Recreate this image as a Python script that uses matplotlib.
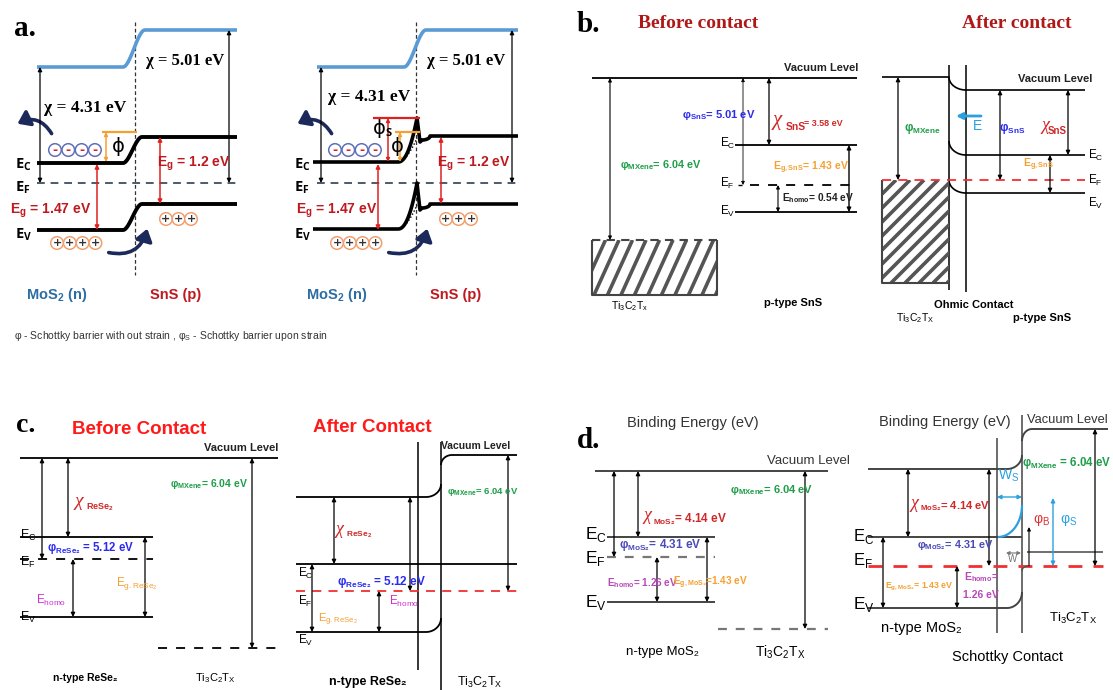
import numpy as np
import matplotlib
matplotlib.use('Agg')
import matplotlib.pyplot as plt
from matplotlib.patches import Circle, Rectangle, FancyArrowPatch

# ---------------- data (energies in eV, labels) ----------------
chi_a = [4.31, 5.01]          # electron affinity MoS2, SnS (panel a)
eg_a = [1.47, 1.2]            # band gap MoS2, SnS (panel a)
mat_a = ['MoS$_\\mathregular{2}$ (n)', 'SnS (p)']
phi_mxene = 6.04
phi_sns, chi_sns, eg_sns, ehomo_sns = 5.01, 3.58, 1.43, 0.54
phi_rese2 = 5.12
chi_mos2, phi_mos2, eg_mos2, ehomo_mos2 = 4.14, 4.31, 1.43, 1.26
panel_letters = ['a.', 'b.', 'c.', 'd.']
titles_b = ['Before contact', 'After contact']
titles_c = ['Before Contact', 'After Contact']
caption = ('φ - Schottky barrier with out strain , φ$_\\mathregular{S}$'
           ' - Schottky barrier upon strain')

# ---------------- canvas ----------------
W, H = 1113, 690
fig = plt.figure(figsize=(W / 100, H / 100), dpi=100)
ax = fig.add_axes([0, 0, 1, 1])
ax.set_xlim(0, W)
ax.set_ylim(H, 0)
ax.axis('off')

SANS = ['Liberation Sans', 'DejaVu Sans']
SERIF = ['Liberation Serif', 'DejaVu Serif']
CAL = ['Open Sans', 'Liberation Sans', 'DejaVu Sans']

GREEN = '#1f9e49'
BLUE = '#2b2bf0'
RED = '#d02828'
ORANGE = '#f5a030'
MAG = '#d030d0'
NAVY = '#1b2a5a'
SKY = '#2aa0e0'


def line(xs, ys, c='k', lw=1.2, ls='-', **kw):
    return ax.plot(xs, ys, color=c, lw=lw, ls=ls, solid_capstyle='butt', **kw)[0]


def arrow(x0, y0, x1, y1, c='k', lw=0.9, style='<|-|>', ms=7):
    ax.annotate('', xy=(x1, y1), xytext=(x0, y0),
                arrowprops=dict(arrowstyle=style, color=c, lw=lw, shrinkA=0,
                                shrinkB=0, mutation_scale=ms))


def txt(x, y, s, size=10, c='k', w='bold', ha='left', va='center', fam=SANS, **kw):
    ax.text(x, y, s, fontsize=size, color=c, fontweight=w, ha=ha, va=va,
            family=fam, **kw)


def sub(s):
    return '$_\\mathregular{' + s + '}$'


def step(x0, xa, xb, x1, y0, y1, n=60):
    t = np.linspace(0, 1, n)
    s = t * t * (3 - 2 * t)
    xs = np.concatenate([[x0], xa + (xb - xa) * t, [x1]])
    ys = np.concatenate([[y0], y0 + (y1 - y0) * s, [y1]])
    return xs, ys


def quarter(xa, ya, xb, yb, start='h', n=30):
    t = np.linspace(0, np.pi / 2, n)
    if start == 'h':
        xs = xa + (xb - xa) * np.sin(t)
        ys = ya + (yb - ya) * (1 - np.cos(t))
    else:
        xs = xa + (xb - xa) * (1 - np.cos(t))
        ys = ya + (yb - ya) * np.sin(t)
    return xs, ys


def hatch(x0, y0, x1, y1, spacing=13.0, slope=1.0, lw=2.6, c='#555555'):
    clip = Rectangle((x0, y0), x1 - x0, y1 - y0, fc='none', ec='none')
    ax.add_patch(clip)
    dx = (y1 - y0) / slope
    for xs in np.arange(x0 - dx, x1 + spacing, spacing):
        ln = line([xs, xs + dx], [y1, y0], c=c, lw=lw)
        ln.set_clip_path(clip)


def circ(x, y, sign, ec, tc):
    ax.add_patch(Circle((x, y), 6.3, fc='white', ec=ec, lw=1.1))
    txt(x, y + 0.5, sign, size=8 if sign == '+' else 9, c=tc, ha='center',
        fam=['DejaVu Sans'])


def curved(a, b, rad):
    ax.add_patch(FancyArrowPatch(a, b, connectionstyle=f'arc3,rad={rad}',
                                 arrowstyle='-|>,head_length=7,head_width=5',
                                 color=NAVY, lw=2.6, mutation_scale=1))


# =============== Panel a ===============
txt(14, 28, panel_letters[0], size=21, fam=SERIF)
for k, ox in enumerate([0, 280]):
    left = 37 if k == 0 else 317
    jx = 135 if k == 0 else 416
    right = 237 if k == 0 else 518
    line([jx, jx], [22, 275], c='#333333', lw=0.9, ls=(0, (3, 2)))
    xs, ys = step(left, jx - 12, jx + 10, right, 67, 30)
    line(xs, ys, c='#5b9bd5', lw=2.6)
    line([left, right], [183, 183], c='#4a5a70', lw=1.4, ls=(0, (4, 3)))
    if k == 0:
        xs, ys = step(left, 123, 142, right, 163, 137)
        line(xs, ys, lw=2.8)
        xs, ys = step(left, 123, 142, right, 230, 204)
        line(xs, ys, lw=2.8)
    else:
        for yb, yp, yr, yd in [(162, 118, 136, 138), (229, 183, 204, 205)]:
            u = np.linspace(0, 1, 40)
            xr = 398 + 19 * u
            yrise = yb - (yb - yp) * u ** 2.2
            tq = np.linspace(0, np.pi / 2, 15)
            xs = np.concatenate([[313], xr, [420, 422], 422 + 8 * np.sin(tq), [518]])
            ys = np.concatenate([[yb], yrise, [yr + 6, yr + 4],
                                 yr + 4 - 4 * (1 - np.cos(tq)), [yr]])
            line(xs, ys, lw=2.6)
            line(398 + 19 * u, yb - (yb - yd) * u ** 1.8, lw=1.0, ls=(0, (1, 1.5)))
    xl = 40 if k == 0 else 321
    arrow(xl, 67, xl, 183, ms=6)
    xr_ = 229 if k == 0 else 512
    arrow(xr_, 30, xr_, 183, ms=6)
    txt(85 if k == 0 else 369, 108 if k == 0 else 97, f'χ = {chi_a[0]:.2f} eV',
        size=12.5, ha='center', fam=SERIF)
    txt(185 if k == 0 else 466, 61, f'χ = {chi_a[1]:.2f} eV', size=12, ha='center', fam=SERIF)
    xg1 = 97 if k == 0 else 378
    xg2 = 160 if k == 0 else 441
    arrow(xg1, 164, xg1, 230, c='#e02020', lw=1.1, ms=6)
    arrow(xg2, 137, xg2, 204, c='#e02020', lw=1.1, ms=6)
    txt(51 if k == 0 else 337, 211, 'E' + sub('g') + f' = {eg_a[0]:.2f} eV', size=10,
        c='#c0181f', ha='center')
    txt(194 if k == 0 else 474, 164, 'E' + sub('g') + f' = {eg_a[1]:.1f} eV', size=10,
        c='#c0181f', ha='center')
    lx = 15 if k == 0 else 294
    txt(lx, 165, 'E' + sub('C'), size=10.5, fam=CAL)
    txt(lx, 188, 'E' + sub('F'), size=10.5, fam=CAL)
    txt(lx, 235, 'E' + sub('V'), size=10.5, fam=CAL)
    for i in range(4):
        circ(55 + ox + 13.3 * i, 150, '-', '#6070b8', '#e02020')
        circ(57 + ox + 12.8 * i, 243, '+', '#f0a070', '#333333')
    for i in range(3):
        circ(166 + ox + 12.5 * i, 219, '+', '#f0a070', '#333333')
    curved((53 + ox, 136), (15 + ox, 125), 0.5)
    curved((106 + ox, 252), (148 + ox, 226), 0.5)
    txt(57 + ox, 295, mat_a[0], size=10.5, c='#2e6da4', ha='center')
    txt(176 + ox, 295, mat_a[1], size=10.5, c='#c0181f', ha='center')

line([102, 137], [132, 132], c=ORANGE, lw=1.6)
arrow(106, 132, 106, 162, c=ORANGE, lw=1.1, ms=5)
txt(112, 147, 'ϕ', size=14, fam=['DejaVu Sans'], w='normal')
line([373, 420], [118, 118], c='#e02020', lw=1.6)
arrow(388, 118, 388, 162, c='#e02020', lw=1.1, ms=5)
txt(373, 128, 'ϕ', size=14, fam=['DejaVu Sans'], w='normal')
txt(385, 134, 'S', size=8, fam=CAL)
line([395, 420], [132, 132], c=ORANGE, lw=1.6)
arrow(400, 132, 400, 162, c=ORANGE, lw=1.1, ms=5)
txt(391, 146, 'ϕ', size=14, fam=['DejaVu Sans'], w='normal')

txt(14, 336, caption, size=7.5, w='normal', c='#333333')

# =============== Panel b (before) ===============
txt(577, 24, panel_letters[1], size=21, fam=SERIF)
txt(698, 23, titles_b[0], size=14, c='#b01818', ha='center', fam=SERIF)
line([592, 857], [78, 78], lw=1.3)
txt(858, 68, 'Vacuum Level', size=8, ha='right', c='#222222')
arrow(610, 78, 610, 240, lw=0.8, ms=5)
hatch(592, 240, 717, 295, spacing=13.5, slope=2.2, lw=2.6)
line([592, 592, 717, 717], [240, 295, 295, 240], c='#444444', lw=1.5)
line([592, 717], [240, 240], c='#444444', lw=1.5, ls=(0, (4, 3)))
txt(620, 165, 'φ' + sub('MXene') + f'= {phi_mxene:.2f} eV', size=7.8, c=GREEN)
arrow(743, 78, 743, 185, lw=0.6, ms=5)
txt(682, 115, 'φ' + sub('SnS') + f'= {phi_sns:.2f} eV', size=8, c=BLUE)
arrow(769, 78, 769, 145, lw=0.9, ms=6)
txt(773, 121, 'χ', size=15, c=RED, w='normal', fam=SERIF, style='italic')
txt(786, 127, 'SnS', size=7.5, c=RED)
txt(804, 123, f'= {chi_sns:.2f} eV', size=6.5, c=RED)
line([735, 857], [145, 145], lw=1.3)
line([750, 857], [185, 185], lw=1.3, ls=(0, (5, 5)))
line([738, 742], [185, 185], lw=1.0)
line([735, 857], [212, 212], lw=1.3)
txt(720, 143, 'E' + sub('C'), size=8.5, w='normal')
txt(720, 183, 'E' + sub('F'), size=8.5, w='normal')
txt(720, 211, 'E' + sub('V'), size=8.5, w='normal')
arrow(849, 145, 849, 212, lw=1.0, ms=6)
arrow(778, 185, 778, 212, lw=0.8, ms=5)
txt(773, 168, 'E' + sub('g, SnS') + f'= {eg_sns:.2f} eV', size=7.5, c=ORANGE)
txt(782, 198, 'E' + sub('homo') + f'= {ehomo_sns:.2f} eV', size=7.3, c='#222222')
txt(630, 306, 'Ti' + sub('3') + 'C' + sub('2') + 'T' + sub('x'), size=7.5, ha='center', w='normal')
txt(793, 303, 'p-type SnS', size=8, ha='center')

# =============== Panel b (after) ===============
txt(1017, 23, titles_b[1], size=14, c='#b01818', ha='center', fam=SERIF)
line([949, 949], [65, 290], lw=1.1)
line([966, 966], [65, 292], lw=1.1)
xs, ys = quarter(949, 77, 966, 90, 'v')
line(np.r_[882, xs, 1085], np.r_[77, ys, 90], lw=1.2)
xs, ys = quarter(949, 141, 966, 155, 'v')
line(np.r_[xs, 1085], np.r_[ys, 155], lw=1.2)
xs, ys = quarter(949, 180, 966, 193, 'v')
line(np.r_[xs, 1085], np.r_[ys, 193], lw=1.2)
txt(1092, 79, 'Vacuum Level', size=8, ha='right', c='#222222')
hatch(882, 180, 949, 283, spacing=14, slope=1.0, lw=2.6)
line([882, 882, 949], [180, 283, 283], c='#444444', lw=1.5)
line([882, 1085], [180, 180], c='#f03030', lw=1.3, ls=(0, (5, 4)))
arrow(898, 77, 898, 180, lw=0.9, ms=6)
txt(922, 128, 'φ' + sub('MXene'), size=8.5, c=GREEN, ha='center')
arrow(981, 116, 956, 116, c=SKY, lw=2.0, style='-|>', ms=9)
txt(977, 126, 'E', size=10, c=SKY, ha='center', w='normal')
arrow(1000, 90, 1000, 180, lw=0.9, ms=6)
txt(1012, 128, 'φ' + sub('SnS'), size=8.5, c=BLUE, ha='center')
arrow(1068, 90, 1068, 155, lw=0.9, ms=6)
txt(1045, 126, 'χ', size=13, c=RED, w='normal', fam=SERIF, style='italic', ha='center')
txt(1057, 131, 'SnS', size=7, c=RED, ha='center')
arrow(1050, 155, 1050, 193, lw=0.9, ms=6)
txt(1038, 165, 'E' + sub('g, SnS'), size=7.5, c=ORANGE, ha='center')
txt(1088, 155, 'E' + sub('C'), size=8.5, w='normal')
txt(1088, 180, 'E' + sub('F'), size=8.5, w='normal')
txt(1088, 203, 'E' + sub('V'), size=8.5, w='normal')
txt(974, 305, 'Ohmic Contact', size=8, ha='center')
txt(915, 318, 'Ti' + sub('3') + 'C' + sub('2') + 'T' + sub('X'), size=7.5, ha='center', w='normal')
txt(1042, 318, 'p-type SnS', size=8, ha='center')

# =============== Panel c (before) ===============
txt(16, 426, panel_letters[2], size=20, fam=SERIF)
txt(139, 429, titles_c[0], size=13.5, c='#ff1a1a', ha='center')
line([20, 278], [458, 458], lw=1.3)
txt(278, 448, 'Vacuum Level', size=8, ha='right', c='#222222')
arrow(42, 458, 42, 559, lw=0.9, ms=6)
arrow(68, 458, 68, 537, lw=0.9, ms=6)
txt(75, 501, 'χ', size=14, c=RED, w='normal', fam=SERIF, style='italic')
txt(86, 507, 'ReSe' + sub('2'), size=6.5, c=RED)
line([20, 153], [537, 537], lw=1.3)
line([20, 153], [559, 559], lw=1.3, ls=(0, (5, 5)))
line([20, 153], [617, 617], lw=1.3)
txt(20, 535, 'E' + sub('C'), size=9, w='normal')
txt(20, 562, 'E' + sub('F'), size=9, w='normal')
txt(20, 617, 'E' + sub('V'), size=9, w='normal')
txt(47, 548, 'φ' + sub('ReSe₂') + f' = {phi_rese2:.2f} eV', size=8.3, c=BLUE)
arrow(73, 559, 73, 617, lw=0.9, ms=6)
txt(36, 600, 'E' + sub('homo'), size=8.5, c=MAG, w='normal')
arrow(145, 537, 145, 617, lw=0.9, ms=6)
txt(116, 583, 'E' + sub('g. ReSe₂'), size=8.5, c=ORANGE, w='normal')
line([158, 278], [648, 648], lw=1.3, ls=(0, (5, 5)))
arrow(252, 458, 252, 648, lw=0.9, ms=6)
txt(209, 484, 'φ' + sub('MXene') + f'= {phi_mxene:.2f} eV', size=7.5, c=GREEN, ha='center')
txt(85, 678, 'n-type ReSe₂', size=7.5, ha='center')
txt(215, 678, 'Ti' + sub('3') + 'C' + sub('2') + 'T' + sub('X'), size=8, ha='center', w='normal')

# =============== Panel c (after) ===============
txt(372, 428, titles_c[1], size=13.5, c='#ff1a1a', ha='center')
line([418, 418], [442, 670], lw=1.1)
line([441, 441], [442, 690], lw=1.1)
xs, ys = quarter(426, 497, 441, 484, 'h')
line(np.r_[296, xs], np.r_[497, ys], lw=1.3)
xs, ys = quarter(441, 465, 452, 455, 'v')
line(np.r_[xs, 517], np.r_[ys, 455], lw=1.3)
txt(476, 446, 'Vacuum Level', size=7.5, ha='center', c='#222222')
line([296, 517], [564, 564], lw=1.3)
line([296, 517], [591, 591], c='#f03030', lw=1.3, ls=(0, (5, 4)))
xs, ys = quarter(426, 632, 441, 618, 'h')
line(np.r_[296, xs], np.r_[632, ys], lw=1.3)
arrow(334, 497, 334, 564, lw=0.9, ms=6)
txt(335, 530, 'χ', size=13, c=RED, w='normal', fam=SERIF, style='italic')
txt(346, 535, 'ReSe' + sub('2'), size=6, c=RED)
arrow(410, 497, 410, 591, lw=0.9, ms=6)
txt(381, 582, 'φ' + sub('ReSe₂') + f' = {phi_rese2:.2f} eV', size=8.5, c=BLUE, ha='center')
arrow(508, 455, 508, 591, lw=0.9, ms=6)
txt(483, 492, 'φ' + sub('MXene') + f'= {phi_mxene:.2f} eV', size=6.8, c=GREEN, ha='center')
arrow(312, 564, 312, 632, lw=0.9, ms=6)
txt(318, 620, 'E' + sub('g. ReSe₂'), size=8, c=ORANGE, w='normal')
arrow(379, 591, 379, 632, lw=0.9, ms=6)
txt(389, 601, 'E' + sub('homo'), size=8.5, c=MAG, w='normal')
txt(298, 573, 'E' + sub('C'), size=8.5, w='normal')
txt(298, 601, 'E' + sub('F'), size=8.5, w='normal')
txt(298, 640, 'E' + sub('V'), size=8.5, w='normal')
txt(368, 682, 'n-type ReSe₂', size=9, ha='center')
txt(480, 682, 'Ti' + sub('3') + 'C' + sub('2') + 'T' + sub('X'), size=9, ha='center', w='normal')

# =============== Panel d (before) ===============
txt(693, 423, 'Binding Energy (eV)', size=10.5, ha='center', w='normal', c='#333333')
txt(577, 441, panel_letters[3], size=21, fam=SERIF)
line([595, 828], [471, 471], lw=1.4, c='#444444')
txt(850, 461, 'Vacuum Level', size=9.5, ha='right', c='#333333', w='normal')
arrow(614, 471, 614, 557, lw=0.9, ms=6)
arrow(638, 471, 638, 537, lw=0.9, ms=6)
txt(643, 516, 'χ', size=13, c=RED, w='normal', fam=SERIF, style='italic')
txt(653, 519, sub('MoS₂') + f'= {chi_mos2:.2f} eV', size=8.5, c=RED)
line([607, 715], [537, 537], lw=1.4, c='#444444')
line([607, 715], [557, 557], lw=1.6, c='#777777', ls=(0, (4, 4)))
line([607, 715], [602, 602], lw=1.4, c='#444444')
txt(585, 534, 'E' + sub('C'), size=12.5, w='normal')
txt(585, 558, 'E' + sub('F'), size=12.5, w='normal')
txt(585, 602, 'E' + sub('V'), size=12.5, w='normal')
txt(619, 545, 'φ' + sub('MoS₂') + f'= {phi_mos2:.2f} eV', size=8.5, c='#4a4ab8')
arrow(657, 557, 657, 602, lw=0.9, ms=6)
txt(607, 583, 'E' + sub('homo') + f'= {ehomo_mos2:.2f} eV', size=7.2, c='#b848b8')
arrow(707, 537, 707, 602, lw=0.9, ms=6)
txt(673, 583, 'E' + sub('g, MoS₂') + f'={eg_mos2:.2f} eV', size=7.2, c=ORANGE)
line([718, 828], [629, 629], lw=1.6, c='#777777', ls=(0, (4, 4)))
arrow(805, 471, 805, 629, lw=0.9, ms=6)
txt(772, 490, 'φ' + sub('MXene') + f'= {phi_mxene:.2f} eV', size=8, c=GREEN, ha='center')
txt(663, 652, 'n-type MoS₂', size=9.5, ha='center', w='normal')
txt(780, 652, 'Ti' + sub('3') + 'C' + sub('2') + 'T' + sub('X'), size=10, ha='center', w='normal')

# =============== Panel d (after) ===============
txt(945, 422, 'Binding Energy (eV)', size=10.5, ha='center', w='normal', c='#333333')
txt(1027, 420, 'Vacuum Level', size=9.3, ha='left', c='#333333', w='normal')
line([997, 997], [438, 633], lw=1.1, c='#444444')
line([1022, 1022], [415, 633], lw=1.1, c='#444444')
xs, ys = quarter(1007, 469, 1022, 455, 'h')
line(np.r_[868, xs], np.r_[469, ys], lw=1.4, c='#444444')
xs, ys = quarter(1022, 441, 1032, 429, 'v')
line(np.r_[xs, 1108], np.r_[ys, 429], lw=1.4, c='#444444')
line([868, 1022], [537, 537], lw=1.4, c='#444444')
xs, ys = quarter(998, 537, 1022, 505, 'h')
line(xs, ys, lw=1.6, c=SKY)
arrow(997, 497, 1022, 497, c=SKY, lw=1.0, ms=6)
txt(998, 476, 'W' + sub('S'), size=10, c=SKY, w='normal')
xs, ys = quarter(1007, 608, 1022, 592, 'h')
line(np.r_[868, xs], np.r_[608, ys], lw=1.4, c='#444444')
line([868, 1103], [566, 566], c='#f03030', lw=2.0, ls=(0, (5, 4)))
line([1027, 1103], [552, 552], lw=1.2, c='#555555')
xs, ys = quarter(1022, 571, 1028, 566, 'v')
line(xs, ys, lw=1.0, c='#555555')
arrow(1006, 553, 1021, 553, c='#777777', lw=0.8, ms=5)
txt(1013, 559, 'W', size=7, c='#777777', ha='center', w='normal')
txt(853, 537, 'E' + sub('C'), size=12, w='normal')
txt(853, 560, 'E' + sub('F'), size=12, w='normal')
txt(853, 604, 'E' + sub('V'), size=12.5, w='normal')
arrow(908, 469, 908, 537, lw=0.9, ms=6)
txt(910, 503, 'χ', size=13, c=RED, w='normal', fam=SERIF, style='italic')
txt(920, 506, sub('MoS₂') + f'= {chi_mos2:.2f} eV', size=8, c=RED)
arrow(883, 537, 883, 608, lw=0.9, ms=6)
txt(885, 587, 'E' + sub('g, MoS₂') + f'= {eg_mos2:.2f} eV', size=6.3, c=ORANGE)
arrow(957, 566, 957, 608, lw=0.9, ms=6)
txt(981, 577, 'E' + sub('homo') + '=', size=7.5, c='#b848b8', ha='center')
txt(981, 595, f'{ehomo_mos2:.2f} eV', size=7.5, c='#b848b8', ha='center')
arrow(989, 469, 989, 566, lw=0.9, ms=6)
txt(955, 545, 'φ' + sub('MoS₂') + f'= {phi_mos2:.2f} eV', size=7.8, c='#4a4ab8', ha='center')
arrow(1029, 566, 1029, 527, lw=0.8, style='-|>', ms=5)
txt(1033, 520, 'φ' + sub('B'), size=10, c='#e03030', w='normal')
arrow(1053, 566, 1053, 498, c=SKY, lw=1.0, ms=6)
txt(1060, 520, 'φ' + sub('S'), size=10, c=SKY, w='normal')
arrow(1095, 429, 1095, 566, lw=0.9, ms=6)
txt(1067, 463, 'φ' + sub('MXene') + f' = {phi_mxene:.2f} eV', size=8.3, c=GREEN, ha='center')
txt(921, 628, 'n-type MoS₂', size=10.5, ha='center', w='normal')
txt(1008, 657, 'Schottky Contact', size=10.5, ha='center', w='normal')
txt(1073, 618, 'Ti' + sub('3') + 'C' + sub('2') + 'T' + sub('X'), size=9.5, ha='center', w='normal')

fig.savefig('out.png', dpi=100)
